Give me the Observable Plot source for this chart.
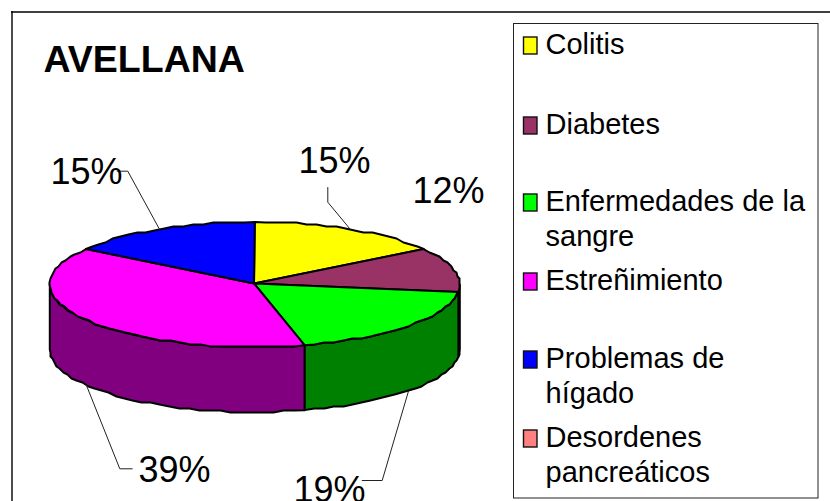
<!DOCTYPE html>
<html><head><meta charset="utf-8">
<script src="https://cdn.jsdelivr.net/npm/d3@7"></script>
<script src="https://cdn.jsdelivr.net/npm/@observablehq/plot@0.6"></script>
<style>html,body{margin:0;padding:0;background:#fff}svg{display:block}</style>
</head><body><div id="chart"></div>
<script>
const title = "AVELLANA";
const categories = ["Colitis","Diabetes","Enfermedades de la\nsangre","Estreñimiento","Problemas de\nhígado","Desordenes\npancreáticos"];
const values = [15.4,11.5,19.2,38.5,15.4,0];
const colors = ["#ffff00","#993366","#00ff00","#ff00ff","#0000ff","#ff8080"];

// layout (pixels in the 830x501 identity scales)
const W = 830, H = 501;
const pie = {cx:254.3, cy:284, rx:205, ry:62.5, depth:65, apexX:253.5, apexY:283};
const legendBaselines = [53,133,210,289,367,446];
const labelPos = [[298,172.7],[412,202.7],[293,501],[138,481.7],[50,183]];
const leaderElbows = [
  [[327.3,187],[327.3,201.7]],
  null,
  [[361.7,480],[381.7,480]],
  [[131.7,468.3],[119.3,468.3]],
  [[116.7,170.7],[127.3,170.7]]
];

const total = d3.sum(values);
let acc = 0;
const slices = categories.map((name,i)=>{
  const a0 = acc/total*2*Math.PI; acc += values[i]; const a1 = acc/total*2*Math.PI;
  return {name, i, a0, a1, value:values[i], color:colors[i],
          wall:(()=>{const c=d3.rgb(colors[i]);return d3.rgb(c.r/2,c.g/2,c.b/2).formatHex();})()};
}).filter(s=>s.value>0);

const rim = (a,dz=0)=>[pie.cx+pie.rx*Math.sin(a), pie.cy-pie.ry*Math.cos(a)+dz];
const snap = ([x,y])=>[Math.round(x),Math.round(y/2)*2];
function arc(a0,a1,dz=0){
  const n = Math.max(1,Math.ceil((a1-a0)/(3*Math.PI/180)));
  return d3.range(n+1).map(k=>{
    const a=a0+(a1-a0)*k/n;
    const p=rim(a,dz);
    return (k===0||k===n)?p:snap(p);
  });
}
// walls: the part of each slice in the front half of the disc
const walls = [];
slices.forEach(s=>{
  const a0=Math.max(s.a0,Math.PI/2), a1=Math.min(s.a1,3*Math.PI/2);
  if(a1<=a0) return;
  const ring=[...arc(a0,a1),...arc(a0,a1,pie.depth).reverse()];
  ring.push(ring[0]);
  ring.forEach(([x,y])=>walls.push({x,y,id:s.i,wall:s.wall}));
});
const tops = [];
slices.forEach(s=>{
  const ring=[[pie.apexX,pie.apexY],...arc(s.a0,s.a1),[pie.apexX,pie.apexY]];
  ring.forEach(([x,y])=>tops.push({x,y,name:s.name}));
});
const leaders = [];
const labels = [];
slices.forEach((s,n)=>{
  labels.push({x:labelPos[n][0],y:labelPos[n][1],t:Math.round(s.value)+"%"});
  const el=leaderElbows[n];
  if(!el) return;
  const mid=(s.a0+s.a1)/2, front=Math.cos(mid)<0;
  const anchor=rim(mid,front?pie.depth:0);
  [...el,anchor].forEach(([x,y])=>leaders.push({x,y,id:s.i}));
});
const legend = categories.map((name,i)=>({name,y:legendBaselines[i]}));

const plot = Plot.plot({
  width:W, height:H, margin:0,
  x:{domain:[0,W],range:[0,W],axis:null},
  y:{domain:[0,H],range:[0,H],axis:null},
  color:{domain:categories,range:colors},
  style:{fontFamily:"'Liberation Sans',Arial,sans-serif",background:"#fff",overflow:"hidden"},
  marks:[
    Plot.ruleY([11.5],{x1:11,x2:W,stroke:"#000",strokeWidth:1.4}),
    Plot.ruleX([11.5],{y1:11,y2:H,stroke:"#000",strokeWidth:1.4}),
    Plot.text([title],{x:()=>43,y:()=>71,text:d=>d,fontSize:37.5,fontWeight:"bold",textAnchor:"start",lineAnchor:"bottom",fill:"#000"}),
    Plot.line(walls,{x:"x",y:"y",z:"id",fill:{value:"wall",scale:null},stroke:"#000",strokeWidth:2,strokeLinejoin:"round",curve:"linear"}),
    Plot.line(tops,{x:"x",y:"y",z:"name",fill:"name",stroke:"#000",strokeWidth:2,strokeLinejoin:"round",curve:"linear"}),
    Plot.line(leaders,{x:"x",y:"y",z:"id",stroke:"#222",strokeWidth:1,curve:"linear"}),
    Plot.text(labels,{x:"x",y:"y",text:"t",fontSize:36,textAnchor:"start",lineAnchor:"bottom",fill:"#000"}),
    Plot.rect([0],{x1:()=>513.5,x2:()=>818,y1:()=>23.5,y2:()=>498,fill:"#fff",stroke:"#222",strokeWidth:1,inset:0}),
    Plot.rect(legend,{x1:()=>523.5,x2:()=>537,y1:d=>d.y-16,y2:d=>d.y+1,fill:"name",stroke:"#111",strokeWidth:1.4}),
    Plot.text(legend,{x:()=>545,y:d=>d.y-25.5,text:"name",fontSize:29,lineHeight:1.24,textAnchor:"start",lineAnchor:"top",fill:"#000"})
  ]
});
document.getElementById("chart").append(plot);
</script></body></html>
